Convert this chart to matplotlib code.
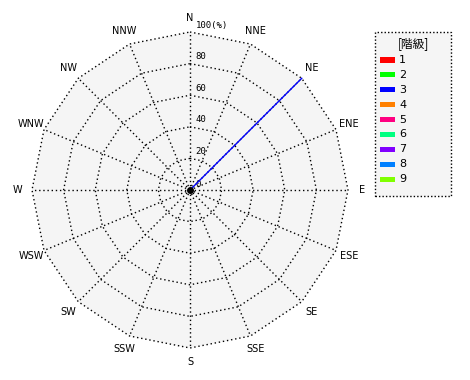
import numpy as np
import matplotlib
matplotlib.use("Agg")
import matplotlib.pyplot as plt
from matplotlib.patches import Polygon, Rectangle

directions = ["N", "NNE", "NE", "ENE", "E", "ESE", "SE", "SSE",
              "S", "SSW", "SW", "WSW", "W", "WNW", "NW", "NNW"]
classes = ["1", "2", "3", "4", "5", "6", "7", "8", "9"]
class_colors = ["#ff0000", "#00ff00", "#0000ff", "#ff8000", "#ff0080",
                "#00ff80", "#8000ff", "#0080ff", "#80ff00"]
# percent per direction for each class (only class 3 blows from NE)
values = {
    "1": [0] * 16,
    "2": [0] * 16,
    "3": [0, 0, 100, 0, 0, 0, 0, 0, 0, 0, 0, 0, 0, 0, 0, 0],
    "4": [0] * 16,
    "5": [0] * 16,
    "6": [0] * 16,
    "7": [0] * 16,
    "8": [0] * 16,
    "9": [0] * 16,
}
rings = [20, 40, 60, 80, 100]
ring_labels = ["20", "40", "60", "80", "100(%)"]

W, H = 470, 380
cx, cy, R = 190, 190, 158  # pixel center and radius of 100 %
s = R / 100.0

fig = plt.figure(figsize=(W / 100, H / 100), dpi=100)
ax = fig.add_axes([0, 0, 1, 1])
ax.set_xlim(-cx / s, (W - cx) / s)
ax.set_ylim(-(H - cy) / s, cy / s)
ax.set_aspect("equal")
ax.axis("off")

ang = np.deg2rad(np.arange(16) * 22.5)
ux, uy = np.sin(ang), np.cos(ang)

# background polygon
ax.add_patch(Polygon(np.c_[ux * 100, uy * 100], closed=True,
                     facecolor="#f5f5f5", edgecolor="none", zorder=0))
grid_kw = dict(color="black", lw=1.0, ls=(0, (1, 2)), zorder=1)
for r in rings:
    ax.plot(np.r_[ux, ux[0]] * r, np.r_[uy, uy[0]] * r, **grid_kw)
for x, y in zip(ux, uy):
    ax.plot([0, x * 100], [0, y * 100], **grid_kw)

for r, lab in zip(rings, ring_labels):
    ax.text(3.5, r + 1.5, lab, fontsize=6.5, family="DejaVu Sans Mono",
            ha="left", va="bottom", zorder=3)
ax.text(3.5, 0.5, "0", fontsize=6.5, family="DejaVu Sans Mono",
        ha="left", va="bottom", zorder=3)

for d, x, y in zip(directions, ux, uy):
    ax.text(x * 109, y * 109, d, fontsize=7, ha="center", va="center")

for c, col in zip(classes, class_colors):
    for v, x, y in zip(values[c], ux, uy):
        if v > 0:
            ax.plot([0, x * v], [0, y * v], color=col, lw=1.0, zorder=4)

ax.plot(0, 0, "o", color="black", ms=4, zorder=5)

# legend box in figure pixels
tr = fig.transFigure
def px(x, y):
    return x / W, 1 - y / H
lx0, ly0, lx1, ly1 = 375, 32, 451, 196
fig.patches.append(Rectangle(px(lx0, ly1), (lx1 - lx0) / W, (ly1 - ly0) / H,
                             transform=tr, facecolor="#f5f5f5",
                             edgecolor="black", lw=1.0, ls=(0, (1, 1.5))))
fig.text(*px(413, 44), "[階級]", transform=tr, fontsize=8.5, ha="center",
         va="center", family=["Noto Sans CJK JP", "DejaVu Sans"])
for i, (c, col) in enumerate(zip(classes, class_colors)):
    y = 60 + i * 14.9
    fig.patches.append(Rectangle(px(380, y + 2.5), 15 / W, 5 / H, transform=tr,
                                 facecolor=col, edgecolor="none"))
    fig.text(*px(399, y), c, transform=tr, fontsize=8, ha="left", va="center")

fig.savefig("out.png", dpi=100, facecolor="white")
